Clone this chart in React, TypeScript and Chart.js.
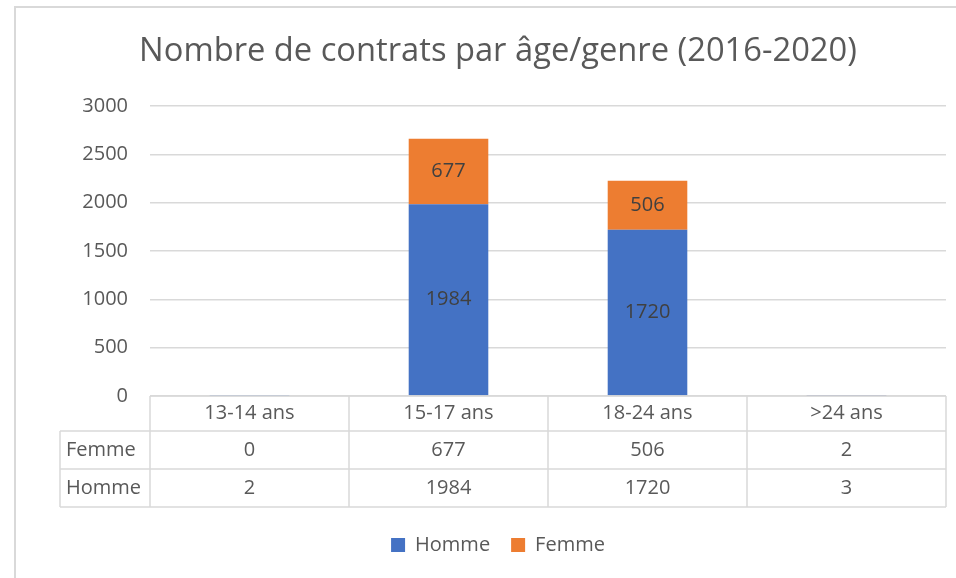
import { useEffect, useRef } from "react";
import { Chart, registerables } from "chart.js";

Chart.register(...registerables);

const chartTitle = "Nombre de contrats par âge/genre (2016-2020)";
const categories = ["13-14 ans", "15-17 ans", "18-24 ans", ">24 ans"];
const seriesNames = ["Homme", "Femme"];
const hommeValues = [2, 1984, 1720, 3];
const femmeValues = [0, 677, 506, 2];
const seriesColors = ["#4472C4", "#ED7D31"];
const yMin = 0;
const yMax = 3000;
const yStep = 500;

const FONT = "'Open Sans', 'Noto Sans', sans-serif";
const TEXT = "#595959";
const LINE = "#d9d9d9";

const framePlugin = {
  id: "frame",
  beforeDraw(chart: any) {
    const { ctx, width, height } = chart;
    ctx.save();
    ctx.strokeStyle = LINE;
    ctx.lineWidth = 2;
    ctx.beginPath();
    ctx.moveTo(15, height);
    ctx.lineTo(15, 7);
    ctx.lineTo(width, 7);
    ctx.stroke();
    ctx.restore();
  },
};

const barLabelPlugin = {
  id: "barLabels",
  afterDatasetsDraw(chart: any) {
    const { ctx } = chart;
    ctx.save();
    ctx.font = `20px ${FONT}`;
    ctx.fillStyle = "#404040";
    ctx.textAlign = "center";
    ctx.textBaseline = "middle";
    chart.data.datasets.forEach((ds: any, di: number) => {
      const meta = chart.getDatasetMeta(di);
      meta.data.forEach((el: any, i: number) => {
        const h = Math.abs(el.base - el.y);
        if (h >= 20) {
          ctx.fillText(String(ds.data[i]), el.x, (el.y + el.base) / 2);
        }
      });
    });
    ctx.restore();
  },
};

const tablePlugin = {
  id: "dataTable",
  afterDraw(chart: any) {
    const { ctx, chartArea } = chart;
    const xs = chart.scales.x;
    const n = categories.length;
    const cw = (chartArea.right - chartArea.left) / n;
    const top = chartArea.bottom;
    const y1 = top + 35;
    const y2 = y1 + 38;
    const y3 = y2 + 38;
    const tableLeft = 60;
    ctx.save();
    ctx.strokeStyle = LINE;
    ctx.lineWidth = 1.5;
    ctx.beginPath();
    ctx.moveTo(chartArea.left, top);
    ctx.lineTo(chartArea.right, top);
    [y1, y2, y3].forEach((y) => {
      ctx.moveTo(tableLeft, y);
      ctx.lineTo(chartArea.right, y);
    });
    ctx.moveTo(tableLeft, y1);
    ctx.lineTo(tableLeft, y3);
    for (let i = 0; i <= n; i++) {
      const bx = chartArea.left + i * cw;
      ctx.moveTo(bx, top);
      ctx.lineTo(bx, y3);
    }
    ctx.stroke();

    ctx.font = `20px ${FONT}`;
    ctx.fillStyle = TEXT;
    ctx.textBaseline = "middle";
    ctx.textAlign = "center";
    categories.forEach((c, i) => {
      ctx.fillText(c, xs.getPixelForValue(i), (top + y1) / 2);
    });
    const rows = [...chart.data.datasets].reverse();
    const rowTops = [y1, y2];
    rows.forEach((ds: any, r: number) => {
      const cy = rowTops[r] + 19;
      ctx.textAlign = "left";
      ctx.fillText(ds.label, tableLeft + 6, cy);
      ctx.textAlign = "center";
      ds.data.forEach((v: number, i: number) => {
        ctx.fillText(String(v), xs.getPixelForValue(i), cy);
      });
    });
    ctx.restore();
  },
};

export default function App() {
  const ref = useRef<HTMLCanvasElement | null>(null);
  useEffect(() => {
    if (!ref.current) return;
    const chart = new Chart(ref.current, {
      type: "bar",
      data: {
        labels: categories,
        datasets: [
          {
            label: seriesNames[0],
            data: hommeValues,
            backgroundColor: seriesColors[0],
            borderWidth: 0,
            categoryPercentage: 1,
            barPercentage: 0.4,
          },
          {
            label: seriesNames[1],
            data: femmeValues,
            backgroundColor: seriesColors[1],
            borderWidth: 0,
            categoryPercentage: 1,
            barPercentage: 0.4,
          },
        ],
      },
      options: {
        responsive: false,
        animation: false,
        layout: { padding: { top: 10, left: 50, right: 10, bottom: 13 } },
        scales: {
          x: {
            stacked: true,
            ticks: { display: false },
            grid: { display: false },
            border: { display: false },
            afterFit: (s: any) => {
              s.height = 118;
            },
          },
          y: {
            stacked: true,
            min: yMin,
            max: yMax,
            ticks: {
              stepSize: yStep,
              color: TEXT,
              padding: 22,
              font: { family: FONT, size: 20 },
              callback: (v: any) => String(v),
            },
            grid: { color: LINE, lineWidth: 1.5, drawTicks: false },
            border: { display: false },
            afterFit: (s: any) => {
              s.width = 100;
            },
          },
        },
        plugins: {
          title: {
            display: true,
            text: chartTitle,
            color: TEXT,
            font: { family: FONT, size: 32.7, weight: "normal" },
            padding: { top: 22, bottom: 34.8 },
          },
          legend: {
            position: "bottom",
            labels: {
              boxWidth: 14,
              boxHeight: 14,
              padding: 21,
              color: TEXT,
              font: { family: FONT, size: 20 },
            },
          },
          tooltip: { enabled: false },
        },
      },
      plugins: [framePlugin, barLabelPlugin, tablePlugin],
    });
    return () => chart.destroy();
  }, []);
  return (
    <canvas
      ref={ref}
      width={956}
      height={578}
      style={{ position: "absolute", left: 0, top: 0, width: 956, height: 578 }}
    />
  );
}
